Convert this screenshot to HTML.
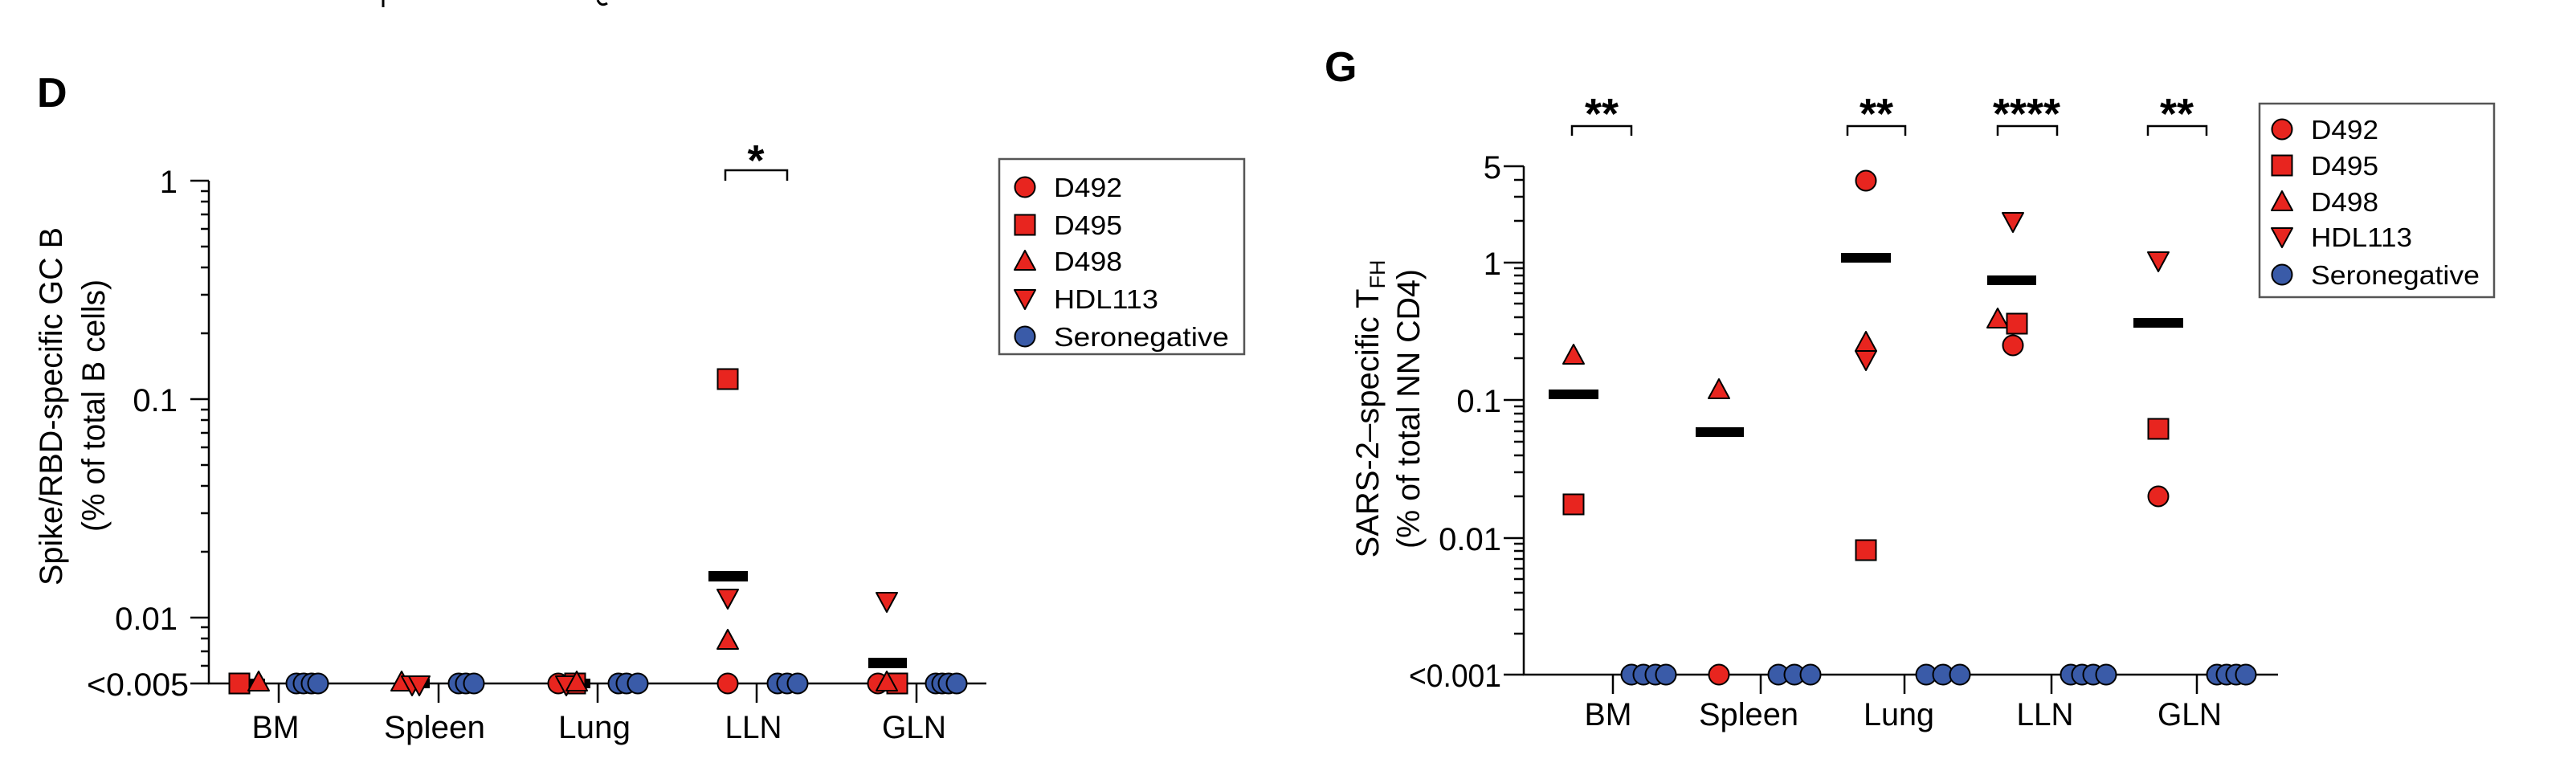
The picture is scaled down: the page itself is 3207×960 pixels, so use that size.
<!DOCTYPE html>
<html><head><meta charset="utf-8"><style>html,body{margin:0;padding:0;background:#fff}svg{display:block}</style></head>
<body>
<svg width="3207" height="960" viewBox="0 0 3207 960" xmlns="http://www.w3.org/2000/svg" font-family="Liberation Sans, Arial, sans-serif">
<defs>
<g id="c"><circle r="12.5" fill="#e8251f" stroke="#000" stroke-width="2"/></g>
<g id="b"><circle r="12.5" fill="#3a5ba8" stroke="#000" stroke-width="2"/></g>
<g id="s"><rect x="-12.5" y="-12.5" width="25" height="25" fill="#e8251f" stroke="#000" stroke-width="2"/></g>
<g id="u"><path d="M0,-15 L13,9 L-13,9 Z" fill="#e8251f" stroke="#000" stroke-width="2" stroke-linejoin="round"/></g>
<g id="d"><path d="M0,15 L13,-9 L-13,-9 Z" fill="#e8251f" stroke="#000" stroke-width="2" stroke-linejoin="round"/></g>
</defs>

<path d="M477,0 V9 M744,0 Q748,9 756,4" stroke="#000" stroke-width="3" fill="none"/>

<!-- ============ PANEL D ============ -->
<text x="46" y="133" font-size="52" font-weight="bold">D</text>
<text transform="translate(77,506) rotate(-90)" text-anchor="middle" font-size="40" textLength="446" lengthAdjust="spacingAndGlyphs">Spike/RBD-specific GC B</text>
<text transform="translate(130,505) rotate(-90)" text-anchor="middle" font-size="40" textLength="314" lengthAdjust="spacingAndGlyphs">(% of total B cells)</text>

<g stroke="#000" stroke-width="2.5" fill="none">
<path d="M260,225 V851 H1228"/>
<path d="M237,225 H260 M237,497 H260 M237,769 H260 M237,851 H260"/>
<path d="M250,415 H260 M250,367 H260 M250,333 H260 M250,307 H260 M250,285 H260 M250,267 H260 M250,251 H260 M250,238 H260
M250,687 H260 M250,639 H260 M250,605 H260 M250,579 H260 M250,557 H260 M250,539 H260 M250,523 H260 M250,510 H260
M250,781 H260 M250,795 H260 M250,811 H260 M250,829 H260"/>
<path d="M347,851 V875 M546,851 V875 M744,851 V875 M942,851 V875 M1141,851 V875"/>
<path d="M903,225 V212 H980 V225"/>
</g>
<g font-size="40" text-anchor="end">
<text x="221" y="240">1</text>
<text x="221" y="512">0.1</text>
<text x="221" y="784">0.01</text>
<text x="235" y="866" textLength="127" lengthAdjust="spacingAndGlyphs">&lt;0.005</text>
</g>
<g font-size="40" text-anchor="middle">
<text x="343" y="919" textLength="59" lengthAdjust="spacingAndGlyphs">BM</text>
<text x="541" y="919" textLength="126" lengthAdjust="spacingAndGlyphs">Spleen</text>
<text x="740" y="919" textLength="90" lengthAdjust="spacingAndGlyphs">Lung</text>
<text x="938" y="919" textLength="71" lengthAdjust="spacingAndGlyphs">LLN</text>
<text x="1138" y="919" textLength="80" lengthAdjust="spacingAndGlyphs">GLN</text>
</g>
<text x="941" y="218" font-size="54" font-weight="bold" text-anchor="middle">*</text>

<!-- left data -->
<rect x="300" y="845" width="30" height="12" fill="#000"/>
<use href="#s" x="298" y="851"/><use href="#u" x="322" y="851"/>
<use href="#b" x="369" y="851"/><use href="#b" x="378" y="851"/><use href="#b" x="388" y="851"/><use href="#b" x="396" y="851"/>
<rect x="495" y="845" width="40" height="12" fill="#000"/>
<use href="#u" x="500" y="851"/><use href="#d" x="513" y="851"/><use href="#d" x="522" y="851"/>
<use href="#b" x="571" y="851"/><use href="#b" x="580" y="851"/><use href="#b" x="590" y="851"/>
<rect x="695" y="845" width="40" height="12" fill="#000"/>
<use href="#c" x="695" y="851"/><use href="#s" x="716" y="851"/><use href="#d" x="705" y="851"/><use href="#u" x="718" y="851"/>
<use href="#b" x="770" y="851"/><use href="#b" x="780" y="851"/><use href="#b" x="794" y="851"/>
<use href="#c" x="906" y="851"/>
<use href="#b" x="968" y="851"/><use href="#b" x="980" y="851"/><use href="#b" x="993" y="851"/>
<use href="#s" x="906" y="472"/><use href="#d" x="906" y="743"/><use href="#u" x="906" y="799"/>
<rect x="882" y="711" width="49" height="13" fill="#000"/>
<use href="#c" x="1093" y="851"/><use href="#s" x="1117" y="851"/><use href="#u" x="1104" y="851"/>
<use href="#b" x="1165" y="851"/><use href="#b" x="1173" y="851"/><use href="#b" x="1181" y="851"/><use href="#b" x="1191" y="851"/>
<use href="#d" x="1104" y="747"/>
<rect x="1081" y="819" width="48" height="13" fill="#000"/>

<!-- left legend -->
<rect x="1244" y="198" width="305" height="243" fill="#fff" stroke="#555" stroke-width="2.5"/>
<use href="#c" x="1276" y="233"/><use href="#s" x="1276" y="280"/><use href="#u" x="1276" y="327"/><use href="#d" x="1276" y="370"/><use href="#b" x="1276" y="419"/>
<g font-size="33">
<text x="1312" y="245" textLength="85" lengthAdjust="spacingAndGlyphs">D492</text>
<text x="1312" y="292" textLength="85" lengthAdjust="spacingAndGlyphs">D495</text>
<text x="1312" y="337" textLength="85" lengthAdjust="spacingAndGlyphs">D498</text>
<text x="1312" y="384" textLength="130" lengthAdjust="spacingAndGlyphs">HDL113</text>
<text x="1312" y="431" textLength="218" lengthAdjust="spacingAndGlyphs">Seronegative</text>
</g>

<!-- ============ PANEL G ============ -->
<text x="1649" y="101" font-size="52" font-weight="bold">G</text>
<text transform="translate(1716,509) rotate(-90)" text-anchor="middle" font-size="40">SARS-2–specific T<tspan font-size="27" dy="8">FH</tspan></text>
<text transform="translate(1767,509) rotate(-90)" text-anchor="middle" font-size="40" textLength="348" lengthAdjust="spacingAndGlyphs">(% of total NN CD4)</text>

<g stroke="#000" stroke-width="2.5" fill="none">
<path d="M1897,207 V840 H2836"/>
<path d="M1872,207 H1897 M1872,327 H1897 M1872,498 H1897 M1872,670 H1897 M1872,840 H1897"/>
<path d="M1885,275 H1897 M1885,245 H1897 M1885,224 H1897
M1885,446 H1897 M1885,416 H1897 M1885,395 H1897 M1885,378 H1897 M1885,365 H1897 M1885,353 H1897 M1885,343 H1897 M1885,334 H1897
M1885,618 H1897 M1885,588 H1897 M1885,567 H1897 M1885,550 H1897 M1885,537 H1897 M1885,525 H1897 M1885,515 H1897 M1885,506 H1897
M1885,789 H1897 M1885,759 H1897 M1885,738 H1897 M1885,721 H1897 M1885,708 H1897 M1885,696 H1897 M1885,686 H1897 M1885,677 H1897"/>
<path d="M2008,840 V864 M2192,840 V864 M2371,840 V864 M2554,840 V864 M2735,840 V864"/>
<path d="M1957,169 V157 H2031 V169 M2300,169 V157 H2372 V169 M2487,169 V157 H2561 V169 M2674,169 V157 H2747 V169"/>
</g>
<g font-size="40" text-anchor="end">
<text x="1869" y="222">5</text>
<text x="1869" y="342">1</text>
<text x="1869" y="513">0.1</text>
<text x="1869" y="685">0.01</text>
<text x="1869" y="855" textLength="115" lengthAdjust="spacingAndGlyphs">&lt;0.001</text>
</g>
<g font-size="40" text-anchor="middle">
<text x="2002" y="903" textLength="59" lengthAdjust="spacingAndGlyphs">BM</text>
<text x="2177" y="903" textLength="124" lengthAdjust="spacingAndGlyphs">Spleen</text>
<text x="2364" y="903" textLength="88" lengthAdjust="spacingAndGlyphs">Lung</text>
<text x="2546" y="903" textLength="71" lengthAdjust="spacingAndGlyphs">LLN</text>
<text x="2726" y="903" textLength="80" lengthAdjust="spacingAndGlyphs">GLN</text>
</g>
<g font-size="54" font-weight="bold" text-anchor="middle">
<text x="1994" y="160">**</text>
<text x="2336" y="160">**</text>
<text x="2523" y="160">****</text>
<text x="2710" y="160">**</text>
</g>

<!-- right data -->
<use href="#u" x="1959" y="444"/><use href="#s" x="1959" y="628"/>
<rect x="1928" y="485" width="62" height="12" fill="#000"/>
<use href="#b" x="2031" y="840"/><use href="#b" x="2046" y="840"/><use href="#b" x="2061" y="840"/><use href="#b" x="2074" y="840"/>
<use href="#u" x="2140" y="487"/><use href="#c" x="2140" y="840"/>
<rect x="2111" y="532" width="60" height="12" fill="#000"/>
<use href="#b" x="2214" y="840"/><use href="#b" x="2234" y="840"/><use href="#b" x="2254" y="840"/>
<use href="#c" x="2323" y="225"/><use href="#u" x="2323" y="428"/><use href="#d" x="2323" y="446"/><use href="#s" x="2323" y="685"/>
<rect x="2292" y="315" width="62" height="12" fill="#000"/>
<use href="#b" x="2398" y="840"/><use href="#b" x="2419" y="840"/><use href="#b" x="2440" y="840"/>
<use href="#d" x="2506" y="274"/><use href="#u" x="2487" y="399"/><use href="#s" x="2511" y="403"/><use href="#c" x="2506" y="430"/>
<rect x="2474" y="343" width="61" height="12" fill="#000"/>
<use href="#b" x="2578" y="840"/><use href="#b" x="2592" y="840"/><use href="#b" x="2606" y="840"/><use href="#b" x="2622" y="840"/>
<use href="#d" x="2687" y="323"/><use href="#s" x="2687" y="534"/><use href="#c" x="2687" y="618"/>
<rect x="2656" y="396" width="62" height="12" fill="#000"/>
<use href="#b" x="2760" y="840"/><use href="#b" x="2772" y="840"/><use href="#b" x="2784" y="840"/><use href="#b" x="2796" y="840"/>

<!-- right legend -->
<rect x="2813" y="129" width="292" height="241" fill="#fff" stroke="#555" stroke-width="2.5"/>
<use href="#c" x="2841" y="161"/><use href="#s" x="2841" y="206"/><use href="#u" x="2841" y="253"/><use href="#d" x="2841" y="293"/><use href="#b" x="2841" y="342"/>
<g font-size="33">
<text x="2877" y="173" textLength="84" lengthAdjust="spacingAndGlyphs">D492</text>
<text x="2877" y="218" textLength="84" lengthAdjust="spacingAndGlyphs">D495</text>
<text x="2877" y="263" textLength="84" lengthAdjust="spacingAndGlyphs">D498</text>
<text x="2877" y="307" textLength="126" lengthAdjust="spacingAndGlyphs">HDL113</text>
<text x="2877" y="354" textLength="210" lengthAdjust="spacingAndGlyphs">Seronegative</text>
</g>
</svg>
</body></html>
